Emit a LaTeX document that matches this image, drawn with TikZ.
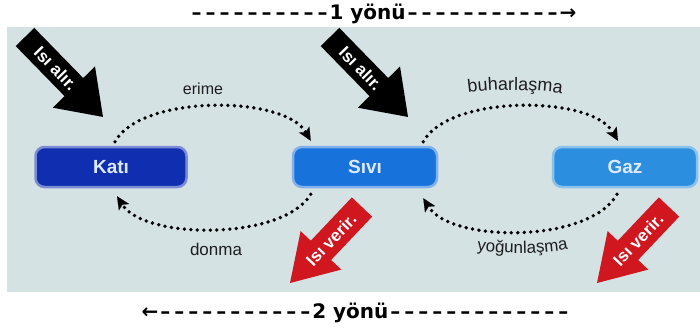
\documentclass[tikz,border=0pt]{standalone}
\usepackage{fontspec}
\setmainfont{Liberation Sans}
\newfontfamily\djv{DejaVu Sans}
\usetikzlibrary{arrows.meta,decorations.text,calc}
\definecolor{panel}{RGB}{213,226,228}
\definecolor{katic}{RGB}{16,46,176}
\definecolor{sivic}{RGB}{24,114,220}
\definecolor{gazc}{RGB}{44,142,222}
\definecolor{boxtxt}{RGB}{222,234,255}
\definecolor{redarr}{RGB}{208,22,30}
\definecolor{lbl}{RGB}{30,30,30}
\newcommand{\hy}{\makebox[14pt]{–}}
\newcommand{\lblfont}{\fontsize{16}{18}\selectfont}
\begin{document}
\begin{tikzpicture}[x=1pt,y=-1pt,
  box/.style={rounded corners=9pt, minimum height=40pt, inner sep=0pt, text=boxtxt,
    font=\bfseries\fontsize{19}{21}\selectfont, line width=2.5pt},
  lbl/.style={text=lbl, inner sep=0pt},
  flow/.style={line width=3.8pt, line cap=round, dash pattern=on 0pt off 6.5pt,
    -{Stealth[length=13pt,width=12pt,inset=3pt,line width=0.1pt]}},
  arrtxt/.style={text=white, font=\bfseries\fontsize{17}{19}\selectfont, inner sep=0pt},
  dirtxt/.style={font=\djv\bfseries\fontsize{20}{24}\selectfont, inner sep=0pt}
]
\useasboundingbox (0,0) rectangle (700,333);
\fill[white] (0,0) rectangle (700,333);
\fill[panel] (7,27) rectangle (700,292);

% state boxes
\node[box, fill=katic, draw=katic!55!white, minimum width=151pt] (kati) at (111,167) {Katı};
\node[box, fill=sivic, draw=sivic!55!white, minimum width=144pt] (sivi) at (365,167) {Sıvı};
\node[box, fill=gazc, draw=gazc!55!white, minimum width=144pt] (gaz) at (625,167) {Gaz};

% dotted transitions
\draw[flow] ($(kati.north)+(4,-4)$) .. controls +(25,-47) and +(-27,-46) .. ($(sivi.north west)+(19,-5)$);
\draw[flow] ($(sivi.north east)+(-15,-4)$) .. controls +(25,-47) and +(-27,-46) .. ($(gaz.north)+(-7,-5)$);
\draw[flow] ($(sivi.south west)+(19,6)$) .. controls +(-27,46) and +(28,44) .. ($(kati.south)+(6,8)$);
\draw[flow] ($(gaz.south)+(-8,6)$) .. controls +(-27,49) and +(28,45) .. ($(sivi.south east)+(-15,10)$);

% labels
\node[lbl, font=\lblfont] (erime) at (203,89) {erime};
\node[lbl, font=\fontsize{17}{19}\selectfont] (donma) at (216,249) {donma};
\path[decorate, decoration={text along path, text={|\fontsize{18}{20}\selectfont|buharlaşma},
  text align=center, text color=lbl}] (440,99) .. controls (477,87) and (553,87) .. (590,100);
\path[decorate, decoration={text along path, text={|\fontsize{17}{19}\selectfont|yoğunlaşma},
  text align=center, text color=lbl}] (455,246) .. controls (490,256) and (555,256) .. (590,244);

% heat in (black)
\begin{scope}[shift={(25,37)}, rotate=-45.7]
\fill[black] (0,-13) -- (70,-13) -- (70,-29.5) -- (111.7,0) -- (70,29.5) -- (70,13) -- (0,13) -- cycle;
\node[arrtxt, rotate=-45.7] (alir1) at (44,0) {Isı alır.};
\end{scope}
\begin{scope}[shift={(330,37)}, rotate=-45.7]
\fill[black] (0,-13) -- (70,-13) -- (70,-29.5) -- (111.7,0) -- (70,29.5) -- (70,13) -- (0,13) -- cycle;
\node[arrtxt, rotate=-45.7] (alir2) at (44,0) {Isı alır.};
\end{scope}

% heat out (red)
\begin{scope}[shift={(362,207)}, rotate=-133.45]
\fill[redarr] (0,-14) -- (59.7,-14) -- (59.7,-28) -- (104.7,0) -- (59.7,28) -- (59.7,14) -- (0,14) -- cycle;
\node[arrtxt, rotate=46.55] (verir1) at (45,0) {Isı verir.};
\end{scope}
\begin{scope}[shift={(669,207)}, rotate=-133.45]
\fill[redarr] (0,-14) -- (59.7,-14) -- (59.7,-28) -- (104.7,0) -- (59.7,28) -- (59.7,14) -- (0,14) -- cycle;
\node[arrtxt, rotate=46.55] (verir2) at (45,0) {Isı verir.};
\end{scope}

% direction texts
\node[dirtxt] (yon1) at (383,14) {\hy\hy\hy\hy\hy\hy\hy\hy\hy\hy1 yönü\hy\hy\hy\hy\hy\hy\hy\hy\hy\hy\hy→};
\node[dirtxt] (yon2) at (356,313) {←\hy\hy\hy\hy\hy\hy\hy\hy\hy\hy\hy2 yönü\hy\hy\hy\hy\hy\hy\hy\hy\hy\hy\hy\hy\hy};
\end{tikzpicture}
\end{document}
